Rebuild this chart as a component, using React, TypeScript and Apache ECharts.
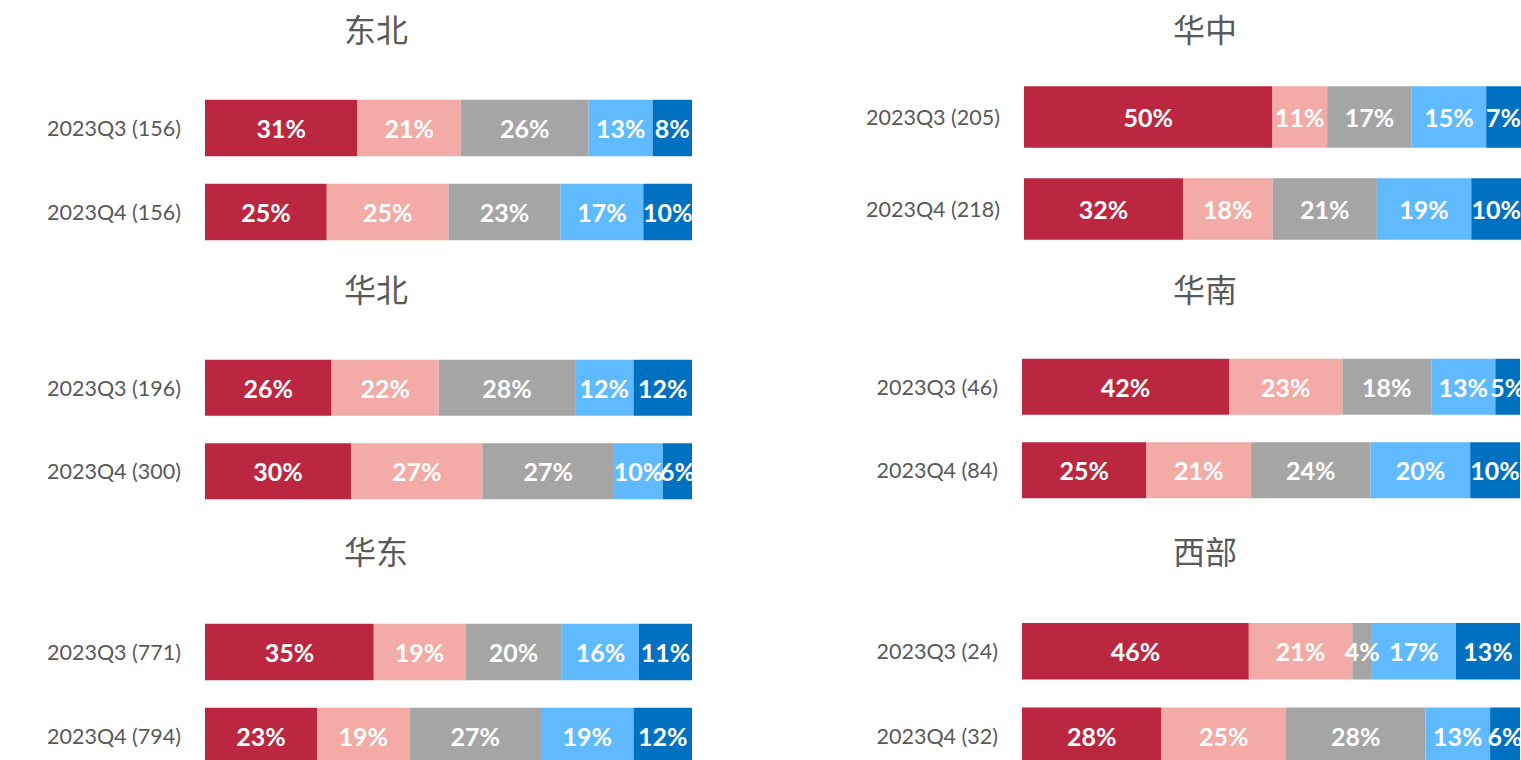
import React, { useEffect, useRef } from "react";
import * as echarts from "echarts";

const regions = ["东北", "华中", "华北", "华南", "华东", "西部"];
const categories = [
  ["2023Q3 (156)", "2023Q4 (156)"],
  ["2023Q3 (205)", "2023Q4 (218)"],
  ["2023Q3 (196)", "2023Q4 (300)"],
  ["2023Q3 (46)", "2023Q4 (84)"],
  ["2023Q3 (771)", "2023Q4 (794)"],
  ["2023Q3 (24)", "2023Q4 (32)"],
];
// per region: [Q3 row, Q4 row], each row has 5 segment shares (%)
const shares = [
  [[31, 21, 26, 13, 8], [25, 25, 23, 17, 10]],
  [[50, 11, 17, 15, 7], [32, 18, 21, 19, 10]],
  [[26, 22, 28, 12, 12], [30, 27, 27, 10, 6]],
  [[42, 23, 18, 13, 5], [25, 21, 24, 20, 10]],
  [[35, 19, 20, 16, 11], [23, 19, 27, 19, 12]],
  [[46, 21, 4, 17, 13], [28, 25, 28, 13, 6]],
];
const segmentColors = ["#BB2740", "#F2ABA6", "#A5A5A5", "#5FBAFF", "#0070C0"];

// layout per panel
const panels = [
  { left: 205, width: 487, top: 86, height: 168, titleX: 376, titleY: 28 },
  { left: 1024, width: 497, top: 71, height: 184, titleX: 1205, titleY: 28 },
  { left: 205, width: 487, top: 346, height: 167, titleX: 376, titleY: 288 },
  { left: 1022, width: 498, top: 345, height: 167, titleX: 1205, titleY: 288 },
  { left: 205, width: 487, top: 610, height: 168, titleX: 376, titleY: 550 },
  { left: 1022, width: 498, top: 609, height: 169, titleX: 1205, titleY: 550 },
];

export default function App() {
  const ref = useRef<HTMLDivElement>(null);
  useEffect(() => {
    document.body.style.margin = "0";
    if (!ref.current) return;
    const chart = echarts.init(ref.current, undefined, { renderer: "svg" });
    const grid: any[] = [];
    const xAxis: any[] = [];
    const yAxis: any[] = [];
    const series: any[] = [];
    const graphic: any[] = [];
    regions.forEach((name, i) => {
      const p = panels[i];
      grid.push({
        left: p.left, width: p.width, top: p.top, height: p.height,
        containLabel: false, outerBoundsMode: "none",
      });
      xAxis.push({ gridIndex: i, type: "value", min: 0, max: 100, show: false });
      yAxis.push({
        gridIndex: i, type: "category", data: categories[i], inverse: true,
        axisLine: { show: false }, axisTick: { show: false },
        axisLabel: { color: "#595959", fontSize: 21.5, fontFamily: "Lato", margin: 24 },
      });
      graphic.push({
        type: "text", x: p.titleX, y: p.titleY,
        style: {
          text: name, fill: "#595959", fontSize: 32, fontFamily: "Noto Sans CJK SC",
          textAlign: "center", textVerticalAlign: "middle",
        },
      });
      const rows = shares[i];
      const totals = rows.map((r) => r.reduce((a, b) => a + b, 0));
      for (let s = 0; s < 5; s++) {
        series.push({
          type: "bar", xAxisIndex: i, yAxisIndex: i, stack: "r" + i,
          barWidth: "67%",
          itemStyle: { color: segmentColors[s] },
          data: rows.map((r, k) => ({ value: (r[s] / totals[k]) * 100, raw: r[s] })),
          label: {
            show: true, position: "inside", color: "#FFFFFF", fontSize: 25,
            fontWeight: "bold", fontFamily: "Lato",
            formatter: (prm: any) => prm.data.raw + "%",
          },
        });
      }
    });
    chart.setOption({ animation: false, grid, xAxis, yAxis, series, graphic });
    return () => chart.dispose();
  }, []);
  return <div ref={ref} style={{ width: 1521, height: 760 }} />;
}
